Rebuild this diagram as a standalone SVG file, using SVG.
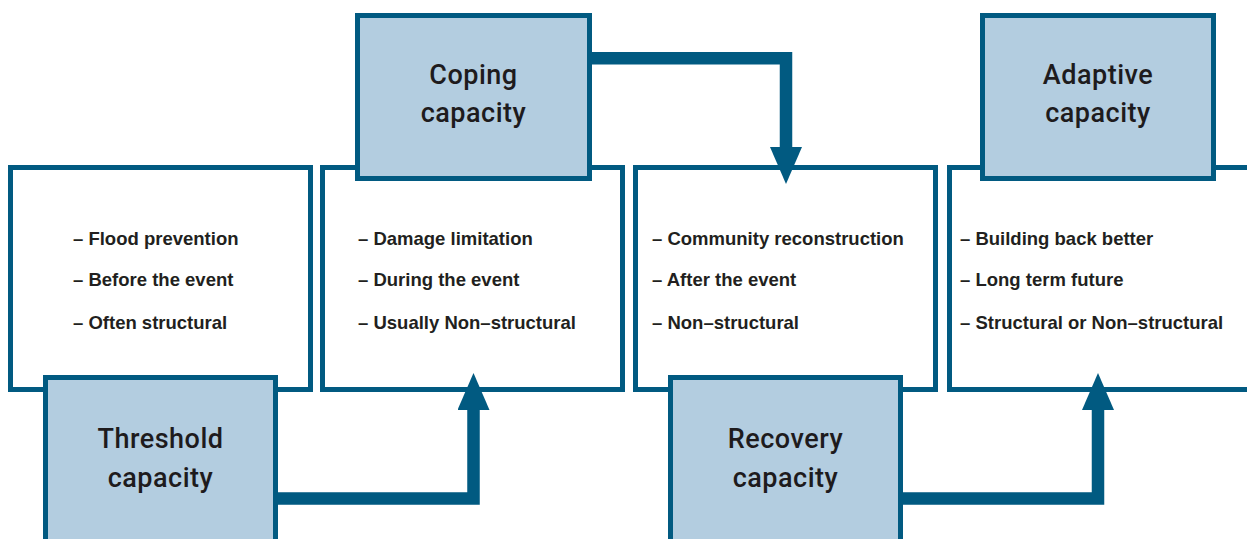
<svg xmlns="http://www.w3.org/2000/svg" width="1247" height="539" viewBox="0 0 1247 539">
<style>
.wbox{fill:#ffffff;stroke:#015a81;stroke-width:5}
.bbox{fill:#b3cde0;stroke:#015a81;stroke-width:5}
.title{font-family:Roboto,"Liberation Sans",sans-serif;font-weight:500;font-size:27px;fill:#1e1b1d;text-anchor:middle;letter-spacing:0.5px}
.item{font-family:"Liberation Sans",Arial,sans-serif;font-weight:bold;font-size:18.5px;fill:#221f20}
.conn{fill:none;stroke:#015a81;stroke-width:12.5;stroke-linejoin:miter}
</style>
<defs>
<marker id="arrow" markerUnits="userSpaceOnUse" viewBox="0 0 37 32" markerWidth="37" markerHeight="32" refX="0" refY="16" orient="auto">
<path d="M0,0 L37,16 L0,32 Z" fill="#015a81"/>
</marker>
</defs>
<rect width="1247" height="539" fill="#ffffff"/>
<g id="threshold-info">
<rect class="wbox" x="10.5" y="167.5" width="300" height="222"/>
<text class="item" x="73" y="245">– Flood prevention</text>
<text class="item" x="73" y="286">– Before the event</text>
<text class="item" x="73" y="329">– Often structural</text>
</g>
<g id="coping-info">
<rect class="wbox" x="322.5" y="167.5" width="300" height="222"/>
<text class="item" x="358" y="245">– Damage limitation</text>
<text class="item" x="358" y="286">– During the event</text>
<text class="item" x="358" y="329">– Usually Non–structural</text>
</g>
<g id="recovery-info">
<rect class="wbox" x="635.5" y="167.5" width="300" height="222"/>
<text class="item" x="652" y="245">– Community reconstruction</text>
<text class="item" x="652" y="286">– After the event</text>
<text class="item" x="652" y="329">– Non–structural</text>
</g>
<g id="adaptive-info">
<rect class="wbox" x="949.5" y="167.5" width="302" height="222"/>
<text class="item" x="960" y="245">– Building back better</text>
<text class="item" x="960" y="286">– Long term future</text>
<text class="item" x="960" y="329">– Structural or Non–structural</text>
</g>
<g id="coping">
<rect class="bbox" x="357.5" y="15.5" width="232" height="163"/>
<text class="title" x="473.5" y="84">Coping</text>
<text class="title" x="473.5" y="122">capacity</text>
</g>
<g id="adaptive">
<rect class="bbox" x="982.5" y="15.5" width="231" height="163"/>
<text class="title" x="1098" y="84">Adaptive</text>
<text class="title" x="1098" y="122">capacity</text>
</g>
<g id="threshold">
<rect class="bbox" x="45.5" y="377.5" width="230" height="200"/>
<text class="title" x="160.5" y="448">Threshold</text>
<text class="title" x="160.5" y="487">capacity</text>
</g>
<g id="recovery">
<rect class="bbox" x="670.5" y="377.5" width="230" height="200"/>
<text class="title" x="785.5" y="448">Recovery</text>
<text class="title" x="785.5" y="487">capacity</text>
</g>
<g id="connectors">
<path class="conn" d="M591,58.3 H786 V147" marker-end="url(#arrow)"/>
<path class="conn" d="M277,498.5 H473.5 V410" marker-end="url(#arrow)"/>
<path class="conn" d="M902,498.5 H1098 V410" marker-end="url(#arrow)"/>
</g>
</svg>
